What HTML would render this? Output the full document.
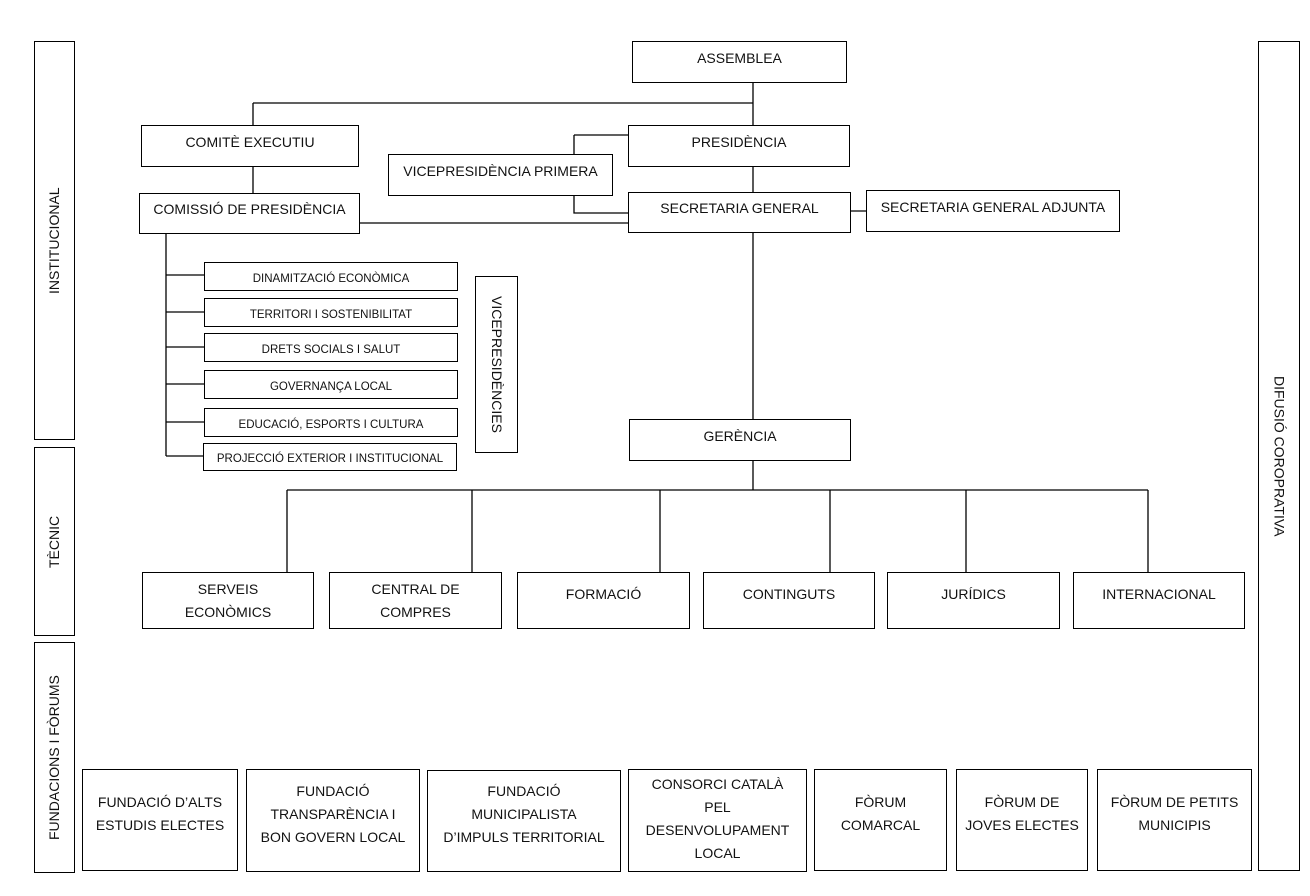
<!DOCTYPE html>
<html><head><meta charset="utf-8"><style>
body{margin:0;width:1310px;height:896px;background:#fff;position:relative;overflow:hidden;font-family:"Liberation Sans",sans-serif;color:#111}
.b{position:absolute;border:1.3px solid #000;box-sizing:border-box;display:flex;align-items:center;justify-content:center;text-align:center;font-size:14px;line-height:23px;background:#fff;padding-bottom:8px}
.r{padding-bottom:13px}
.s{font-size:11.5px;padding-bottom:0;padding-top:5px}
.v{writing-mode:vertical-rl;padding-bottom:0}
.vl{writing-mode:vertical-rl;transform:rotate(180deg);padding-bottom:0}
svg{position:absolute;left:0;top:0}
</style></head><body>
<svg width="1310" height="896"><g stroke="#000" stroke-width="1.3" fill="none">
<path d="M753 82V125M253 103H753M253 103V125M253 166V193M753 166V192M574 135H628M574 135V154M574 195V213H628M359 223H628M850 211H866M753 232V419M166 233V456M166 275H204M166 312H204M166 347H204M166 384H204M166 422H204M166 456H204M753 460V490M287 490H1148M287 490V572M472 490V572M660 490V572M830 490V572M966 490V572M1148 490V572"/>
</g></svg>
<div class="b vl" style="left:34px;top:41px;width:41px;height:399px">INSTITUCIONAL</div>
<div class="b vl" style="left:34px;top:447px;width:41px;height:189px">TÈCNIC</div>
<div class="b vl" style="left:34px;top:642px;width:41px;height:231px">FUNDACIONS I FÒRUMS</div>
<div class="b v" style="left:1258px;top:41px;width:42px;height:830px">DIFUSIÓ COROPRATIVA</div>
<div class="b" style="left:632px;top:41px;width:215px;height:42px">ASSEMBLEA</div>
<div class="b" style="left:141px;top:125px;width:218px;height:42px">COMITÈ EXECUTIU</div>
<div class="b" style="left:628px;top:125px;width:222px;height:42px">PRESIDÈNCIA</div>
<div class="b" style="left:388px;top:154px;width:225px;height:42px">VICEPRESIDÈNCIA PRIMERA</div>
<div class="b" style="left:139px;top:193px;width:221px;height:41px">COMISSIÓ DE PRESIDÈNCIA</div>
<div class="b" style="left:628px;top:192px;width:223px;height:41px">SECRETARIA GENERAL</div>
<div class="b" style="left:866px;top:190px;width:254px;height:42px">SECRETARIA GENERAL ADJUNTA</div>
<div class="b s" style="left:204px;top:262px;width:254px;height:29px">DINAMITZACIÓ ECONÒMICA</div>
<div class="b s" style="left:204px;top:298px;width:254px;height:29px">TERRITORI I SOSTENIBILITAT</div>
<div class="b s" style="left:204px;top:333px;width:254px;height:29px">DRETS SOCIALS I SALUT</div>
<div class="b s" style="left:204px;top:370px;width:254px;height:29px">GOVERNANÇA LOCAL</div>
<div class="b s" style="left:204px;top:408px;width:254px;height:29px">EDUCACIÓ, ESPORTS I CULTURA</div>
<div class="b s" style="left:203px;top:443px;width:254px;height:28px">PROJECCIÓ EXTERIOR I INSTITUCIONAL</div>
<div class="b v" style="left:475px;top:276px;width:43px;height:177px">VICEPRESIDÈNCIES</div>
<div class="b" style="left:629px;top:419px;width:222px;height:42px">GERÈNCIA</div>
<div class="b r" style="left:142px;top:572px;width:172px;height:57px;padding-bottom:0">SERVEIS<br>ECONÒMICS</div>
<div class="b r" style="left:329px;top:572px;width:173px;height:57px;padding-bottom:0">CENTRAL DE<br>COMPRES</div>
<div class="b r" style="left:517px;top:572px;width:173px;height:57px">FORMACIÓ</div>
<div class="b r" style="left:703px;top:572px;width:172px;height:57px">CONTINGUTS</div>
<div class="b r" style="left:887px;top:572px;width:173px;height:57px">JURÍDICS</div>
<div class="b r" style="left:1073px;top:572px;width:172px;height:57px">INTERNACIONAL</div>
<div class="b r" style="left:82px;top:769px;width:156px;height:102px">FUNDACIÓ D’ALTS<br>ESTUDIS ELECTES</div>
<div class="b r" style="left:246px;top:769px;width:174px;height:103px">FUNDACIÓ<br>TRANSPARÈNCIA I<br>BON GOVERN LOCAL</div>
<div class="b r" style="left:427px;top:770px;width:194px;height:102px">FUNDACIÓ<br>MUNICIPALISTA<br>D’IMPULS TERRITORIAL</div>
<div class="b" style="left:628px;top:769px;width:179px;height:103px;padding-bottom:4px">CONSORCI CATALÀ<br>PEL<br>DESENVOLUPAMENT<br>LOCAL</div>
<div class="b r" style="left:814px;top:769px;width:133px;height:102px">FÒRUM<br>COMARCAL</div>
<div class="b r" style="left:956px;top:769px;width:132px;height:102px">FÒRUM DE<br>JOVES ELECTES</div>
<div class="b r" style="left:1097px;top:769px;width:155px;height:102px">FÒRUM DE PETITS<br>MUNICIPIS</div>
</body></html>
